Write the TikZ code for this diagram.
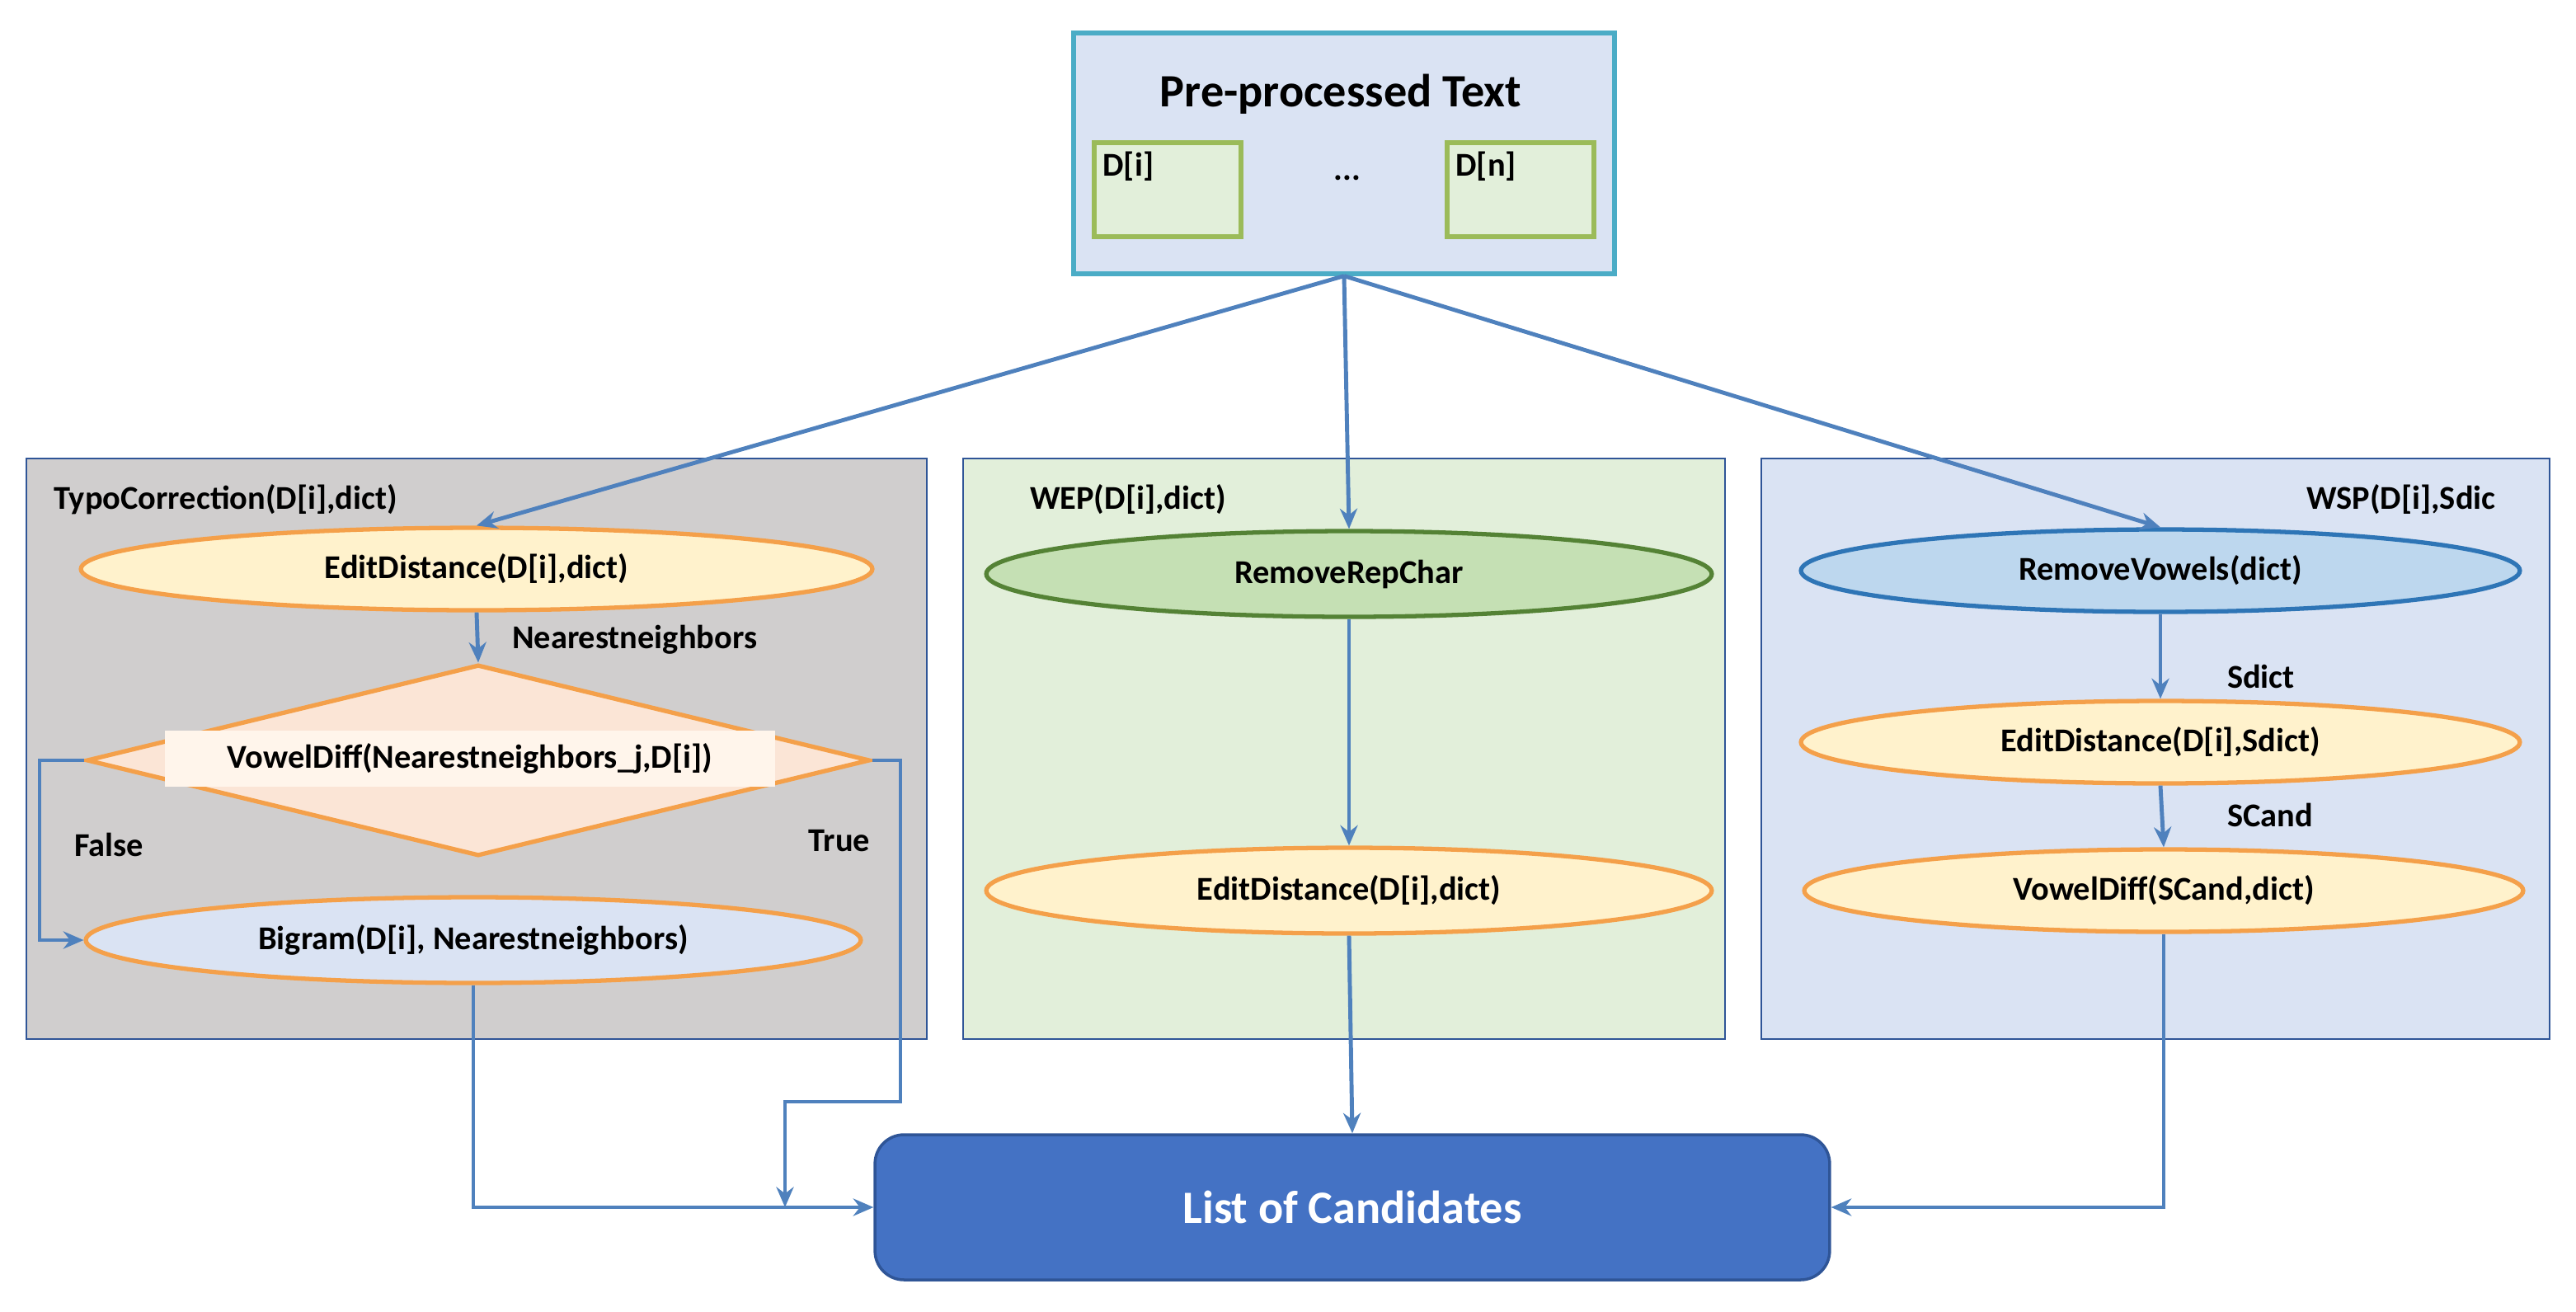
\documentclass[tikz,border=0pt]{standalone}
\usepackage{fontspec}
\setmainfont{Carlito}
\usetikzlibrary{arrows.meta, shapes.geometric}
\definecolor{arrowblue}{HTML}{4F81BD}
\definecolor{panelblue}{HTML}{2F5597}
\definecolor{lightblue}{HTML}{DAE3F3}
\definecolor{lightgreen}{HTML}{E2EFDA}
\definecolor{panelgray}{HTML}{D0CECE}
\definecolor{ellorange}{HTML}{F4A04A}
\definecolor{ellyellow}{HTML}{FFF2CC}
\definecolor{boxgreen}{HTML}{9BBB59}
\definecolor{boxteal}{HTML}{4BACC6}
\definecolor{ovalgreen}{HTML}{C5E0B4}
\definecolor{ovalgreenline}{HTML}{548235}
\definecolor{ovalblue}{HTML}{BDD7EE}
\definecolor{ovalblueline}{HTML}{2E75B6}
\definecolor{diamondfill}{HTML}{FBE5D6}
\definecolor{candblue}{HTML}{4472C4}

\begin{document}
\begin{tikzpicture}[x=0.02cm, y=-0.02cm, thick, font=\fontsize{11.5}{13}\selectfont\bfseries,
    panel/.style={draw=panelblue, line width=0.7pt},
    inner box/.style={draw=boxgreen, fill=lightgreen, line width=1.5pt, minimum width=1.78cm, minimum height=1.14cm},
    oval/.style={ellipse, draw=ellorange, fill=ellyellow, line width=1.5pt, minimum width=8.8cm, minimum height=1cm, inner sep=0pt},
    flow/.style={draw=arrowblue, line width=1.4pt, -{Stealth[length=7pt, width=6pt]}}]
\useasboundingbox (0,0) rectangle (1562,795);

% input text
\node[draw=boxteal, line width=1.5pt, fill=lightblue, minimum width=6.56cm, minimum height=2.92cm] (text) at (815,93) {};
\node[font=\fontsize{16}{19}\selectfont\bfseries] (title) at (813,57) {Pre-processed Text};
\node[inner box] (di) at (708,115) {};
\node[inner box] (dn) at (922,115) {};
\node[anchor=north west] at (di.north west) {D[i]};
\node[anchor=north west] at (dn.north west) {D[n]};
\node (dots) at (817,108) {...};

% panels
\node[panel, fill=panelgray, minimum width=10.92cm, minimum height=7.04cm] (typo) at (289,454) {};
\node[panel, fill=lightgreen, minimum width=9.24cm, minimum height=7.04cm] (wep) at (815,454) {};
\node[panel, fill=lightblue, minimum width=9.56cm, minimum height=7.04cm] (wsp) at (1307,454) {};
\node[anchor=west] (typolab) at (26,303) {TypoCorrection(D[i],dict)};
\node[anchor=west] (weplab) at (618,303) {WEP(D[i],dict)};
\node[anchor=west] (wsplab) at (1392,303) {WSP(D[i],Sdic};

% typo correction
\node[oval, minimum width=9.6cm] (edit1) at (289,345) {EditDistance(D[i],dict)};
\node[diamond, draw=ellorange, fill=diamondfill, line width=1.5pt, minimum width=9.5cm, minimum height=2.32cm, inner sep=0pt, aspect=4] (vdiff1) at (290,461) {};
\node[fill=orange!8, minimum width=7.4cm, minimum height=0.68cm, inner sep=0pt] (vdifftext) at (285,460) {VowelDiff(Nearestneighbors\_j,D[i])};
\node[oval, fill=lightblue, minimum width=9.4cm, minimum height=1.04cm] (bigram) at (287,570) {Bigram(D[i], Nearestneighbors)};
\node[anchor=west] (nnlab) at (304,388) {Nearestneighbors};
\node (falselab) at (66,512) {False};
\node (truelab) at (509,510) {True};

% WEP
\node[oval, draw=ovalgreenline, fill=ovalgreen, minimum height=1.04cm] (rep) at (818,348) {RemoveRepChar};
\node[oval, minimum height=1.04cm] (edit2) at (818,540) {EditDistance(D[i],dict)};

% WSP
\node[oval, draw=ovalblueline, fill=ovalblue, minimum width=8.72cm] (vowels) at (1310,346) {RemoveVowels(dict)};
\node[oval, minimum width=8.72cm] (edit3) at (1310,450) {EditDistance(D[i],Sdict)};
\node[oval, minimum width=8.72cm] (vdiff3) at (1312,540) {VowelDiff(SCand,dict)};
\node[anchor=west] (sdictlab) at (1344,410) {Sdict};
\node[anchor=west] (scandlab) at (1344,494) {SCand};

% output
\node[draw=panelblue, fill=candblue, rounded corners=10pt, line width=1pt, minimum width=11.58cm, minimum height=1.76cm, text=white, font=\fontsize{16}{19}\selectfont\bfseries] (cands) at (820,732) {List of Candidates};
\coordinate (falsecorner) at (24,461);
\coordinate (truecorner) at (546,461);
\coordinate (truedrop) at (476,668);

% connectors
\draw[flow] (text.south) -- (edit1.north);
\draw[flow] (text.south) -- (rep.north);
\draw[flow] (text.south) -- (vowels.north);
\draw[flow] (edit1.south) -- (vdiff1.north);
\draw[flow] (vdiff1.west) -- (falsecorner) |- (bigram.west);
\draw[flow] (vdiff1.east) -- (truecorner) |- (truedrop) -- (truedrop |- cands.west);
\draw[flow] (bigram.south) |- (cands.west);
\draw[flow] (rep.south) -- (edit2.north);
\draw[flow] (edit2.south) -- (cands.north);
\draw[flow] (vowels.south) -- (edit3.north);
\draw[flow] (edit3.south) -- (vdiff3.north);
\draw[flow] (vdiff3.south) |- (cands.east);
\end{tikzpicture}
\end{document}
